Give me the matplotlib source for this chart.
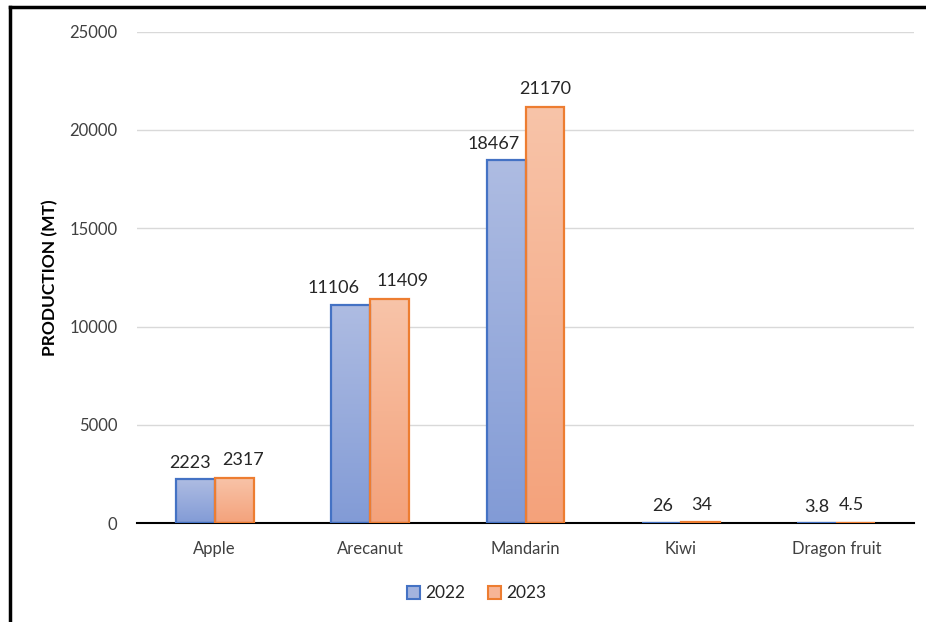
import numpy as np
import matplotlib.pyplot as plt
from matplotlib.colors import LinearSegmentedColormap
from matplotlib.lines import Line2D
from matplotlib.patches import Patch

fruits = ["Apple", "Arecanut", "Mandarin", "Kiwi", "Dragon fruit"]
prod_2022 = [2223, 11106, 18467, 26, 3.8]
prod_2023 = [2317, 11409, 21170, 34, 4.5]
labels_2022 = ["2223", "11106", "18467", "26", "3.8"]
labels_2023 = ["2317", "11409", "21170", "34", "4.5"]

# sideways nudge (px) so neighbouring value labels don't collide
nudge_2022 = [-5, -17, -12, 1, 0]
nudge_2023 = [9, 13, 0, 1, -4]

plt.rcParams['font.family'] = ['Lato', 'DejaVu Sans']

fig = plt.figure(figsize=(9.26, 6.22), dpi=100)
ax = fig.add_axes([0.148, 0.159, 0.839, 0.79])

blue_cmap = LinearSegmentedColormap.from_list("b", ["#829bd6", "#aebce2"])
orange_cmap = LinearSegmentedColormap.from_list("o", ["#f4a27b", "#f8c4a9"])
grad = np.linspace(0, 1, 256).reshape(-1, 1)

x = np.arange(len(fruits))
w = 0.25

def gradient_bars(xs, vals, cmap, edge):
    bars = ax.bar(xs, vals, w, facecolor="none", edgecolor=edge, linewidth=1.6, zorder=3)
    for b in bars:
        x0, y0 = b.get_x(), b.get_y()
        im = ax.imshow(grad, cmap=cmap, origin="lower", aspect="auto",
                       extent=[x0, x0 + b.get_width(), y0, y0 + b.get_height()], zorder=2)
        im.set_clip_path(b)
    return bars

gradient_bars(x - w / 2, prod_2022, blue_cmap, "#4472c4")
gradient_bars(x + w / 2, prod_2023, orange_cmap, "#ed7d31")

for xi, v, t, dx in zip(x - w / 2, prod_2022, labels_2022, nudge_2022):
    ax.annotate(t, (xi, v), xytext=(dx * 0.72, 6), textcoords="offset points",
                ha="center", va="bottom", fontsize=13, color="#262626")
for xi, v, t, dx in zip(x + w / 2, prod_2023, labels_2023, nudge_2023):
    ax.annotate(t, (xi, v), xytext=(dx * 0.72, 7), textcoords="offset points",
                ha="center", va="bottom", fontsize=13, color="#262626")

ax.set_xlim(-0.5, len(fruits) - 0.5)
ax.set_ylim(0, 25000)
ax.set_yticks(range(0, 25001, 5000))
ax.set_xticks(x)
ax.set_xticklabels(fruits)
ax.tick_params(axis="both", length=0, labelsize=12, colors="#404040")
ax.tick_params(axis="y", pad=14)
ax.tick_params(axis="x", pad=13)
ax.yaxis.grid(True, color="#d9d9d9", linewidth=1)
ax.set_axisbelow(True)
for s in ["left", "right", "top"]:
    ax.spines[s].set_visible(False)
ax.spines["bottom"].set_color("black")
ax.spines["bottom"].set_linewidth(1.5)
ax.spines["bottom"].set_zorder(2.5)

ax.set_ylabel("PRODUCTION (MT)", fontsize=12.5, fontweight="bold", labelpad=8)

handles = [Patch(facecolor="#a3b3de", edgecolor="#4472c4", linewidth=1.5, label="2022"),
           Patch(facecolor="#f7b597", edgecolor="#ed7d31", linewidth=1.5, label="2023")]
fig.legend(handles=handles, loc="center", bbox_to_anchor=(0.515, 0.046), ncol=2,
           frameon=False, fontsize=12.5, handlelength=0.75, handleheight=0.75,
           handletextpad=0.3, columnspacing=1.3, labelcolor="#262626")

# outer frame (left and top edges)
fig.add_artist(Line2D([0.0108, 0.0108], [0, 0.9895], color="black", linewidth=2.5))
fig.add_artist(Line2D([0.0108, 1.0], [0.9895, 0.9895], color="black", linewidth=2.5))

fig.savefig("out.png", dpi=100)
